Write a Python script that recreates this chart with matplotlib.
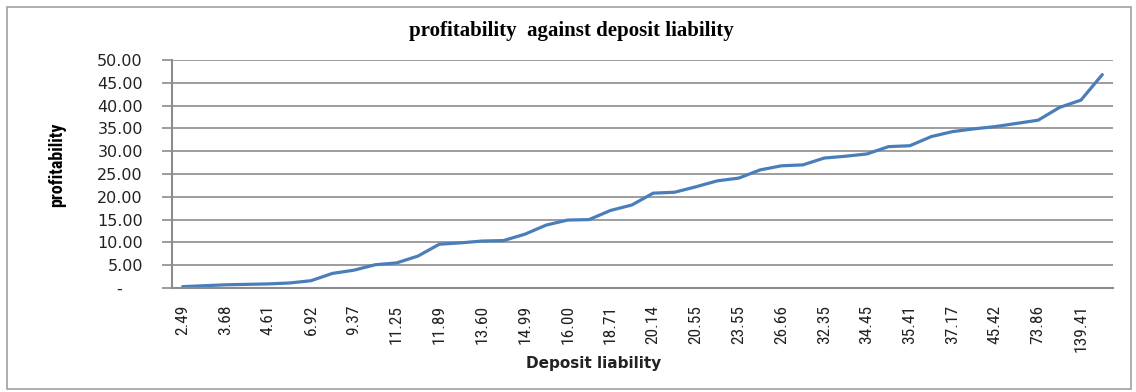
import matplotlib.pyplot as plt
from matplotlib import font_manager
from matplotlib.patches import Rectangle
from matplotlib.ticker import FuncFormatter

# profitability, one value per deposit liability category (sorted)
profit = [0.3, 0.5, 0.7, 0.8, 0.9, 1.1, 1.6, 3.2, 3.9, 5.1,
          5.5, 7.0, 9.6, 9.9, 10.3, 10.4, 11.8, 13.8, 14.9, 15.0,
          17.0, 18.2, 20.8, 21.0, 22.2, 23.5, 24.1, 25.9, 26.8, 27.0,
          28.5, 28.9, 29.4, 31.0, 31.2, 33.2, 34.3, 34.9, 35.4, 36.1,
          36.8, 39.6, 41.2, 46.8]

# only every second category label is shown on the axis
deposit_labels = ["2.49", "3.68", "4.61", "6.92", "9.37", "11.25", "11.89",
                  "13.60", "14.99", "16.00", "18.71", "20.14", "20.55",
                  "23.55", "26.66", "32.35", "34.45", "35.41", "37.17",
                  "45.42", "73.86", "139.41"]

y_ticks = [0, 5, 10, 15, 20, 25, 30, 35, 40, 45, 50]

grey = '#8c8c8c'


def narrow_font():
    # the original uses a condensed sans; pick one if it is installed
    for name in ['Liberation Sans Narrow', 'DejaVu Sans Condensed',
                 'Roboto Condensed', 'Open Sans Condensed']:
        try:
            font_manager.findfont(name, fallback_to_default=False)
            return name
        except ValueError:
            pass
    return None


narrow = narrow_font()
if narrow:
    tick_family, tick_size, ylab_size = [narrow, 'DejaVu Sans'], 12.5, 13
else:
    tick_family, tick_size, ylab_size = ['DejaVu Sans'], 9.5, 10

fig = plt.figure(figsize=(11.36, 3.92), dpi=100)
fig.patch.set_facecolor('white')
ax = fig.add_axes([172 / 1136, 1 - 288 / 392, (1113 - 172) / 1136, 228 / 392])

x = list(range(len(profit)))
ax.plot(x, profit, color='#4a7ebb', linewidth=2.3, solid_capstyle='round')

ax.set_xlim(-0.5, len(profit) - 0.5)
ax.set_ylim(0, 50)
ax.set_yticks(y_ticks)
ax.yaxis.set_major_formatter(FuncFormatter(lambda v, p: '-    ' if v == 0 else '%.2f' % v))
ax.set_xticks(x[::2])
ax.set_xticklabels(deposit_labels, rotation=90, family=tick_family, fontsize=tick_size)

ax.grid(axis='y', color=grey, linewidth=1.2)
ax.set_axisbelow(True)
for s in ['top', 'right']:
    ax.spines[s].set_visible(False)
ax.spines['left'].set_color(grey)
ax.spines['left'].set_linewidth(1.5)
ax.spines['bottom'].set_color(grey)
ax.spines['bottom'].set_linewidth(1.5)

ax.tick_params(axis='y', length=7, color=grey, width=1.2, pad=14,
               labelsize=11.5, labelcolor='#222222')
ax.tick_params(axis='x', length=0, pad=12, labelcolor='#222222')

ax.set_xlabel('Deposit liability', fontsize=11, fontweight='bold', color='#222222')
ax.xaxis.set_label_coords(0.448, -0.30)
ax.set_ylabel('profitability', fontsize=ylab_size, fontweight='bold', family=tick_family)
ax.yaxis.set_label_coords(-0.112, 0.54)

fig.text(0.503, 0.921, 'profitability  against deposit liability',
         ha='center', va='center', fontsize=15, fontweight='bold',
         family='Liberation Serif')

# chart area border
fig.patches.append(Rectangle((7 / 1136, 3 / 392), 1124 / 1136, 382 / 392,
                             transform=fig.transFigure, fill=False,
                             edgecolor='#a0a0a0', linewidth=1.2))

fig.savefig('out.png', dpi=100)
